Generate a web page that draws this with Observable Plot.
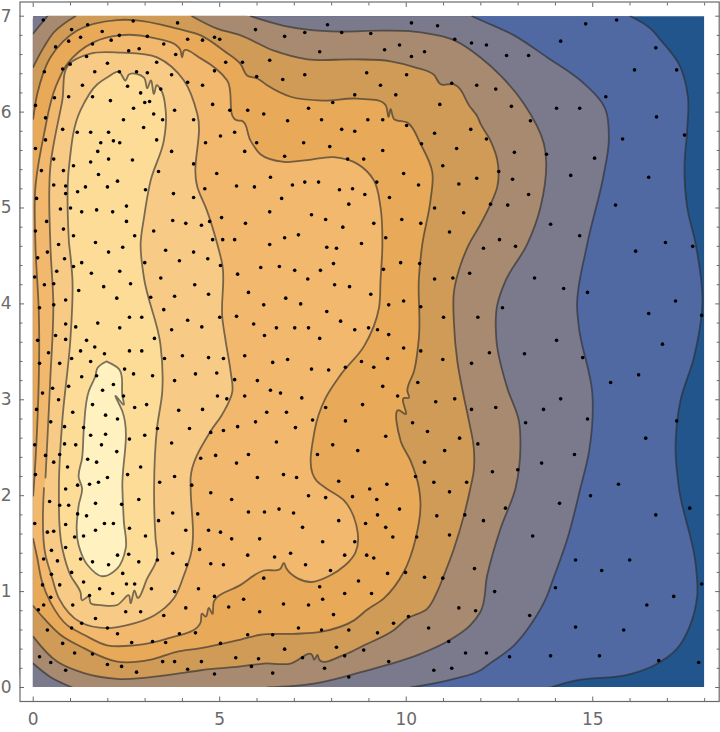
<!DOCTYPE html>
<html>
<head>
<meta charset="utf-8">
<script src="https://cdn.jsdelivr.net/npm/d3@7"></script>
<script src="https://cdn.jsdelivr.net/npm/@observablehq/plot@0.6"></script>
<style>html,body{margin:0;padding:0;background:#fff}svg{display:block}svg text{font-size:17px}</style>
</head>
<body>
<div id="chart"></div>
<script>
const xMajor=[0,5,10,15];
const xMinor=[1,2,3,4,6,7,8,9,11,12,13,14,16,17,18];
const yMajor=[0,1,2,3,4,5,6,7];
const yMinor=[0.2,0.4,0.6,0.8,1.2,1.4,1.6,1.8,2.2,2.4,2.6,2.8,3.2,3.4,3.6,3.8,4.2,4.4,4.6,4.8,5.2,5.4,5.6,5.8,6.2,6.4,6.6,6.8];
const bandColors=["#22558c","#5069a3","#7a7a8c","#a88a70","#cf9b56","#e8a958","#f1b86e","#f7ca86","#fcdc97","#fff2c0"];

const level1=[[16.01,7],[16.55,6.87],[16.82,6.75],[17.31,6.5],[17.55,6.16],[17.53,5.81],[17.46,5.46],[17.53,5.01],[17.76,4.62],[17.94,4.03],[17.71,3.44],[17.35,2.99],[17.22,2.46],[17.31,2.08],[17.76,1.28],[17.8,0.96],[17.58,0.62],[17.27,0.41],[16.64,0.23],[16.01,0.14],[14.5,0.07],[13.85,0]];
const level2=[[11.77,7],[11.99,6.96],[12.89,6.8],[13.78,6.57],[14.67,6.33],[15.34,6.03],[15.43,5.7],[15.3,5.36],[14.85,4.62],[14.58,3.96],[14.63,3.75],[14.99,3.06],[14.9,2.46],[14.67,2.08],[14.32,1.55],[13.91,1.1],[13.78,0.96],[13.38,0.68],[12.89,0.44],[12.17,0.23],[11.99,0.18],[11.28,0.09],[10.12,0]];
const level3Top=[[0,6.82],[0.38,7]];
const level3=[[5.83,7],[6.72,6.9],[7.35,6.86],[8.24,6.84],[9.31,6.85],[10.21,6.84],[11.28,6.75],[11.99,6.57],[12.53,6.38],[13.15,6.09],[13.69,5.67],[13.6,5.01],[13.24,4.62],[12.66,4.24],[12.44,3.99],[12.42,3.61],[12.71,3.12],[13.02,2.78],[13.06,2.5],[12.93,2.08],[12.53,1.66],[12.17,1.17],[11.99,0.79],[11.72,0.65],[11.1,0.48],[10.38,0.35],[8.78,0.16],[7.52,0.04],[6.27,0]];
const level3Bottom=[[1.05,0],[0.46,0.11],[0,0.25]];
const level4Top=[[0,6.47],[0.29,6.68],[0.55,6.83],[1.13,7]];
const level4=[[4.26,7],[4.93,6.87],[5.56,6.8],[6.45,6.64],[7.35,6.55],[8.6,6.55],[9.58,6.53],[10.21,6.47],[10.74,6.39],[10.92,6.29],[11.28,6.29],[11.72,6.05],[11.9,5.96],[11.99,5.88],[12.26,5.7],[12.44,5.5],[12.44,5.22],[12.26,5.04],[11.99,4.83],[11.68,4.62],[11.46,4.41],[11.28,4.13],[11.28,3.79],[11.37,3.4],[11.55,3.02],[11.68,2.78],[11.81,2.5],[11.81,2.26],[11.72,2.08],[11.55,1.8],[11.28,1.45],[11.01,1.17],[10.83,1],[10.56,0.82],[10.03,0.72],[9.67,0.6],[8.87,0.44],[8.33,0.34],[7.67,0.29],[7.62,0.34],[7.53,0.29],[7.48,0.34],[6.9,0.25],[6.18,0.25],[5.56,0.22],[4.49,0.18],[3.59,0.13],[2.25,0.09],[1.36,0.15],[0.64,0.27],[0,0.53]];
const level5=[[0,5.93],[0.11,6.19],[0.46,6.57],[1.18,6.85],[2.25,6.96],[2.7,6.96],[3.86,6.87],[4.49,6.8],[5.11,6.64],[5.56,6.5],[5.74,6.38],[6.01,6.35],[6.27,6.28],[6.9,6.16],[7.79,6.12],[8.69,6.14],[9.45,6.07],[9.53,5.95],[9.58,6.03],[9.67,5.93],[10.03,5.89],[10.38,5.67],[10.7,5.37],[10.65,5.08],[10.43,4.62],[10.34,4.27],[10.34,3.65],[10.21,3.3],[10.03,3.09],[10.07,3.02],[9.94,3.02],[9.98,2.85],[9.82,2.89],[9.85,2.57],[10.12,2.36],[10.34,2.08],[10.38,1.94],[10.25,1.55],[9.94,1.21],[9.4,0.93],[8.95,0.81],[8.6,0.7],[7.7,0.58],[6.99,0.56],[6.09,0.55],[5.56,0.5],[4.49,0.41],[3.82,0.37],[3.15,0.29],[2.25,0.27],[1.36,0.41],[0.73,0.55],[0.29,0.72],[0,0.85]];
const level6=[[0,2],[0.06,2.36],[0.15,3.92],[0.06,4.62],[0.06,5.22],[0.29,5.77],[0.6,6.26],[0.91,6.5],[1.63,6.73],[2.3,6.8],[3.15,6.78],[3.95,6.64],[3.99,6.57],[4.04,6.64],[4.49,6.56],[5.2,6.33],[5.51,5.91],[5.56,5.91],[5.83,5.7],[6.09,5.56],[6.72,5.48],[7.35,5.5],[8.06,5.53],[8.69,5.46],[9.13,5.29],[9.31,5.01],[9.36,4.62],[9.31,4.24],[9.27,3.96],[8.87,3.56],[8.24,3.26],[7.84,3.02],[7.54,2.67],[7.61,2.15],[7.84,2.08],[8.33,1.95],[8.64,1.41],[7.97,1.17],[7.44,1.1],[6.79,1.24],[6.72,1.3],[6.63,1.24],[6.18,1.22],[5.56,1.07],[4.84,0.89],[4.8,0.77],[4.71,0.83],[4.62,0.74],[4.53,0.77],[4.49,0.68],[3.59,0.51],[2.7,0.44],[1.98,0.44],[1.36,0.55],[0.91,0.65],[0.46,0.89],[0.24,1.1],[0.11,1.35],[0,1.55]];
const level7=[[0.33,2.19],[0.46,3.23],[0.54,3.99],[0.46,4.62],[0.46,5.43],[0.78,6.12],[0.96,6.5],[1.54,6.61],[2.34,6.62],[3.32,6.57],[4.04,6.33],[4.4,5.98],[4.4,5.22],[4.66,4.97],[4.93,4.63],[5.07,4.41],[5.07,3.85],[5.16,3.61],[5.29,3.3],[5.34,3.09],[5.07,2.85],[4.75,2.67],[4.22,2.19],[4.22,2.08],[4.22,1.38],[4.04,1.17],[3.77,0.93],[3.24,0.75],[2.52,0.65],[1.98,0.62],[1.27,0.68],[0.69,0.93],[0.51,1.14],[0.33,1.38],[0.29,2.08]];
const level8=[[0.96,4.63],[0.96,5.43],[1.27,6.02],[1.72,6.29],[1.98,6.36],[2.3,6.42],[2.48,6.33],[2.56,6.39],[2.97,6.36],[3.06,6.25],[3.15,6.33],[3.24,6.19],[3.32,6.28],[3.41,6.24],[3.55,6.02],[3.5,5.7],[3.15,5.29],[2.97,4.9],[2.88,4.63],[2.97,4.27],[3.41,3.58],[3.46,3.09],[3.32,2.71],[3.24,2.08],[3.28,1.55],[3.32,1.35],[3.06,1.14],[2.79,0.94],[2.72,1.01],[2.61,0.88],[2.57,0.96],[2.25,0.86],[1.81,0.86],[1.54,0.88],[1.49,0.95],[1.31,0.91],[1.27,0.99],[1,1.17],[0.78,1.45],[0.69,2.08],[0.78,2.78],[1,3.65],[1.05,4.27],[0.96,4.63]];
const level9=[[1.96,3.4],[1.72,3.33],[1.67,3.25],[1.49,3.09],[1.36,2.71],[1.31,2.39],[1.22,2.19],[1.31,2.08],[1.22,1.9],[1.22,1.48],[1.45,1.28],[1.85,1.16],[2.25,1.24],[2.48,1.45],[2.43,1.73],[2.39,2.08],[2.39,2.88],[2.21,3.04],[2.43,2.95],[2.39,3.04],[2.3,3.32],[1.96,3.4]];

const dotsUpper=[[.27,6.96],[1.03,6.86],[1.46,6.91],[1.85,6.84],[2.68,6.95],[3.87,6.93],[.6,6.68],[.95,6.74],[1.27,6.78],[2.09,6.75],[2.31,6.8],[3.06,6.79],[4.14,6.76],[4.54,6.75],[4.86,6.78],[5,6.76],[1.59,6.71],[3.5,6.71],[2.56,6.64],[2.84,6.66],[3.82,6.6],[1.43,6.58],[5.16,6.52],[3.31,6.52],[1.99,6.51],[.99,6.5],[.79,6.45],[.3,6.42],[1.65,6.42],[2.31,6.42],[2.77,6.42],[3.06,6.41],[3.71,6.39],[4.86,6.43],[4.14,6.31],[1.32,6.28],[2.53,6.27],[4.54,6.28],[3.42,6.24],[2.88,6.2],[.57,6.15],[.95,6.16],[1.59,6.16],[2.07,6.12],[2.99,6.1],[3.12,6.11],[.06,6.07],[4.81,6.08],[2.69,6.04],[3.79,6.02],[5.27,6.02],[3.23,5.98],[.33,5.94],[2.42,5.92],[3.47,5.92],[4.3,5.92],[.79,5.82],[2.96,5.84],[1.18,5.79],[1.54,5.79],[2.02,5.79],[5.4,5.79],[5.02,5.75],[.33,5.71],[3.31,5.71],[2.15,5.7],[2.32,5.68],[1.81,5.68],[4.62,5.68],[.06,5.62],[1.73,5.59],[3.71,5.59],[.55,5.51],[2.02,5.51],[2.66,5.5],[1.54,5.48],[4.3,5.46],[1.08,5.44],[.22,5.39],[.81,5.39],[3.36,5.38],[4.92,5.36],[1.75,5.35],[2.26,5.28],[.55,5.24],[.87,5.23],[1.4,5.22],[1.99,5.22],[5.45,5.23],[4.6,5.2],[3.01,5.19],[1.19,5.17],[.87,5.15],[3.76,5.15],[4.3,5.11],[.09,5.1],[2.5,5.02],[.73,4.99],[1,5],[1.7,4.98],[1.3,4.96],[2.13,4.96],[5.05,4.9],[.36,4.86],[2.5,4.86],[3.74,4.87],[4.09,4.84],[4.73,4.86],[4.51,4.82],[.81,4.78],[.06,4.76],[3.23,4.76],[1.08,4.71],[2.72,4.71],[4.81,4.67],[5.08,4.67],[5.4,4.67],[1.67,4.64],[.68,4.62],
[5.96,6.86],[7.89,6.91],[10.14,6.93],[10.84,6.9],[6.74,6.79],[7.28,6.83],[8.27,6.83],[9.05,6.82],[11.3,6.76],[11.75,6.72],[9.82,6.7],[9.42,6.65],[7.68,6.63],[10.49,6.63],[10.14,6.58],[5.61,6.52],[6.34,6.54],[8.94,6.41],[7.28,6.39],[10.01,6.39],[5.99,6.37],[6.69,6.34],[9.31,6.28],[11.22,6.3],[11.89,6.28],[8.62,6.18],[9.72,6.18],[8.03,6.1],[10.9,6.08],[7.38,6.04],[5.75,6.02],[6.18,5.98],[6.82,5.91],[7.73,5.92],[8.97,5.92],[9.37,5.92],[10.01,5.86],[8.27,5.82],[8.62,5.8],[10.76,5.78],[11.73,5.82],[5.99,5.68],[7.25,5.68],[10.41,5.67],[7.95,5.64],[5.67,5.59],[9.37,5.6],[11.35,5.62],[6.74,5.54],[8.43,5.51],[8.86,5.51],[10.98,5.44],[9.93,5.36],[6.36,5.32],[11.89,5.31],[5.93,5.22],[6.95,5.24],[7.28,5.27],[7.65,5.27],[9.21,5.27],[10.33,5.24],[11.41,5.25],[8.21,5.19],[8.56,5.2],[8.89,5.14],[6.66,5.1],[9.55,5.11],[8.46,5.04],[10.76,5],[6.34,4.96],[7.46,4.93],[11.54,4.95],[7.84,4.88],[9.88,4.88],[5.69,4.84],[9.13,4.84],[10.39,4.84],[8.3,4.8],[11.16,4.75],[6.74,4.69],[7.11,4.72],[9.45,4.69],[6.34,4.62],[8.8,4.63],
[14.81,6.92],[15.64,6.96],[14.14,6.74],[16.69,6.67],[12.15,6.7],[12.69,6.59],[13.28,6.59],[16.12,6.44],[17.25,6.44],[12.4,6.24],[15.35,6.16],[12.82,6.06],[14.03,6.04],[14.65,6.04],[16.71,5.95],[13.33,5.91],[12.15,5.72],[15.8,5.72],[17.46,5.76],[12.9,5.58],[13.76,5.56],[15.05,5.52],[12.48,5.38],[12.85,5.3],[14.41,5.34],[16.5,5.32],[13.28,5.14],[12.26,5.04],[12.72,5.03],[15.61,5.03],[13.87,4.83],[14.65,4.71],[12.5,4.67],[16.95,4.64]];
const dotsMiddle=[[2.02,4.54],[2.4,4.59],[.38,4.54],[.12,4.48],[.84,4.47],[1.3,4.43],[1.08,4.39],[2.99,4.43],[3.55,4.56],[4.3,4.54],[3.92,4.45],[4.68,4.47],[5.02,4.4],[.63,4.34],[1.56,4.32],[2.32,4.34],[.04,4.28],[3.42,4.27],[5.48,4.31],[.3,4.2],[.55,4.21],[1.89,4.18],[2.61,4.21],[4.33,4.2],[1.22,4.14],[2.24,4.06],[3.15,4.07],[3.79,4.08],[4.7,4.1],[.87,4.04],[.55,3.99],[.17,3.96],[3.5,3.94],[2.58,3.86],[2.91,3.86],[5,3.86],[5.45,3.87],[4.14,3.83],[.87,3.79],[1.14,3.76],[1.73,3.8],[2.32,3.75],[3.71,3.73],[4.52,3.76],[.6,3.67],[3.25,3.64],[.12,3.62],[.87,3.63],[1.43,3.62],[1.65,3.55],[1.27,3.51],[2.58,3.51],[2.91,3.51],[1.91,3.48],[.41,3.49],[4,3.46],[4.7,3.44],[5.1,3.43],[1.03,3.43],[3.52,3.43],[1.54,3.4],[.17,3.38],[.71,3.38],[2.45,3.32],[2.69,3.27],[4.35,3.27],[4.92,3.28],[1.3,3.24],[1.7,3.25],[3.2,3.25],[3.79,3.2],[5.4,3.21],[.95,3.14],[2.15,3.16],[.52,3.12],[1.86,3.1],[.25,3.07],[2.42,3.04],[4.94,3.04],[5.19,3.01],[.68,3],[1.59,2.95],[2.72,2.92],[3.04,2.95],[.09,2.9],[3.9,2.89],[4.54,2.9],[1.06,2.87],[1.94,2.84],[2.26,2.8],[.47,2.77],[.84,2.72],[1.35,2.71],[3.33,2.7],[4.19,2.7],[5.48,2.72],[5.1,2.68],[4.76,2.66],[1.54,2.63],[1.94,2.64],[2.58,2.59],[2.99,2.63],[.04,2.53],[.84,2.54],[1.14,2.53],[1.83,2.53],[3.71,2.55],[2.24,2.46],[.33,2.42],[.71,2.43],[4.49,2.39],[4.89,2.42],[1.46,2.38],[.55,2.35],[1.7,2.35],[2.88,2.3],[.92,2.3],[5.45,2.34],[.06,2.22],[2.53,2.22],[1.99,2.19],[3.79,2.2],[3.39,2.14],[1.75,2.14],[1.51,2.12],[1.19,2.11],[4.25,2.11],
[7.87,4.59],[8.13,4.58],[6.1,4.38],[6.6,4.39],[7.01,4.35],[7.7,4.35],[8.05,4.42],[7.36,4.26],[9.39,4.36],[9.85,4.43],[10.36,4.42],[10.76,4.26],[11.25,4.27],[11.7,4.32],[8.08,4.2],[8.48,4.18],[5.77,4.12],[6.77,4.06],[9.05,4.1],[6.18,3.99],[7.17,4],[9.53,3.99],[9.93,4.03],[10.39,3.97],[7.87,3.92],[11,3.86],[11.92,3.86],[8.24,3.82],[5.91,3.79],[6.52,3.75],[7.01,3.75],[7.38,3.75],[8.62,3.73],[8.99,3.75],[9.23,3.73],[6.2,3.67],[9.53,3.68],[7.68,3.64],[9.93,3.54],[10.39,3.51],[5.67,3.46],[6.42,3.39],[6.82,3.42],[8.8,3.4],[9.5,3.43],[10.98,3.42],[11.75,3.38],[7.46,3.32],[7.92,3.31],[8.37,3.34],[9.13,3.34],[6.01,3.2],[10.31,3.18],[9.37,3.14],[6.36,3.1],[6.63,3.07],[5.67,3.04],[7.2,3.02],[9.77,3.04],[10.79,2.98],[11.3,3.01],[7.84,2.92],[8.83,2.95],[11.75,2.9],[6.26,2.87],[6.79,2.87],[5.96,2.77],[7.49,2.79],[8.37,2.78],[10.17,2.76],[7.03,2.71],[10.57,2.67],[9.45,2.62],[11.43,2.6],[6.52,2.56],[8.03,2.53],[8.7,2.47],[11.03,2.47],[11.92,2.54],[5.77,2.43],[7.62,2.43],[10.49,2.35],[6.01,2.19],[6.71,2.22],[7.06,2.19],[10.25,2.2],[8.19,2.15],[10.74,2.14],[11.62,2.14],[9.48,2.12],
[12.07,4.58],[12.93,4.6],[16.15,4.55],[17.68,4.6],[13.44,4.27],[14.22,4.16],[14.86,4.12],[17.22,4.03],[12.58,3.96],[16.5,3.9],[17.92,3.88],[14.03,3.62],[16.87,3.58],[12.23,3.49],[13.17,3.48],[14.73,3.44],[16.23,3.26],[15.48,3.18],[14.14,3.01],[12.4,2.92],[13.68,2.9],[13.2,2.76],[14.86,2.8],[17.25,2.78],[16.42,2.6],[14.51,2.43],[13.63,2.34],[12.31,2.25],[12.99,2.27],[15.69,2.12]];
const dotsLower=[[.87,2.07],[.44,1.94],[.71,1.9],[.95,1.9],[1.67,1.92],[2.37,1.91],[2.83,1.96],[4.76,2.03],[5.32,1.96],[1.19,1.81],[1.43,1.79],[.04,1.71],[.87,1.7],[1.91,1.71],[2.15,1.71],[3.74,1.82],[4.41,1.81],[3.36,1.74],[.38,1.62],[.55,1.63],[1.67,1.64],[2.58,1.66],[4.09,1.64],[4.7,1.64],[5.02,1.62],[1.11,1.57],[1.35,1.58],[3.01,1.58],[5.32,1.55],[.87,1.46],[.49,1.43],[4.46,1.44],[2.26,1.38],[2.56,1.39],[3.74,1.4],[.28,1.34],[1.27,1.34],[.65,1.32],[1.59,1.31],[2.83,1.31],[3.33,1.33],[2.02,1.28],[4.76,1.29],[4.11,1.28],[5.1,1.28],[1.03,1.2],[.49,1.18],[2.4,1.19],[1.35,1.1],[2.5,1.08],[2.72,1.08],[.25,1.07],[.71,1.07],[1.78,1.03],[3.17,1.03],[3.79,1],[4.43,1.03],[2.13,.98],[1.51,.96],[.47,.94],[4.86,.95],[1.06,.86],[.28,.86],[4.09,.83],[5.24,.84],[.14,.81],[2.48,.79],[2.88,.79],[3.5,.75],[1.67,.72],[1.3,.67],[.38,.6],[1.03,.62],[1.99,.62],[2.26,.56],[3.92,.56],[4.35,.57],[.79,.46],[2.64,.47],[3.2,.48],[3.55,.47],[5.02,.46],[1.11,.36],[1.59,.35],[.17,.32],[.47,.26],[1.99,.24],[3.47,.27],[3.79,.27],[4.51,.27],[5.43,.31],[2.37,.22],[.87,.18],[4.14,.19],[2.77,.16],[4.86,.14],
[7.38,2],[7.84,1.98],[8.56,1.99],[9.02,2.07],[9.21,1.96],[11.16,2.04],[5.77,1.83],[6.2,1.83],[6.59,1.86],[6.98,1.82],[8.19,1.74],[9.82,1.86],[9.23,1.8],[11.57,1.8],[10.82,1.79],[8.91,1.71],[7.22,1.67],[9.45,1.67],[6.07,1.55],[7.76,1.52],[8.62,1.52],[9.64,1.57],[10.28,1.57],[11.16,1.59],[5.75,1.38],[6.47,1.36],[6.9,1.4],[8.35,1.38],[8.94,1.38],[9.13,1.35],[7.3,1.28],[11.83,1.24],[7.97,1.22],[9.5,1.19],[9.98,1.2],[6.18,1.14],[10.49,1.15],[10.98,1.14],[8.72,1.11],[7.68,1.05],[8.35,.98],[9.07,.98],[5.64,.92],[7.76,.92],[6.71,.87],[7.38,.86],[11.41,.83],[6.07,.79],[11.86,.8],[8.05,.76],[10.06,.74],[9.66,.67],[7.11,.62],[10.6,.62],[7.73,.6],[8.46,.6],[5.75,.55],[6.42,.55],[9.23,.57],[11.14,.48],[6.74,.4],[8.13,.42],[8.86,.39],[11.59,.36],[7.22,.31],[8.35,.33],[6.04,.3],[9.53,.27],[5.85,.22],[7.81,.2],[10.74,.18],[11.22,.2],[6.42,.15],[8.46,.11],
[14.94,2],[14.11,1.92],[17.6,1.87],[12.66,1.87],[16.69,1.8],[12.07,1.74],[13.39,1.58],[14.54,1.33],[15.99,1.33],[15.24,1.22],[17.92,1.08],[14,1.04],[12.37,1],[17.17,.95],[16.45,.86],[13.31,.75],[14.54,.63],[15.83,.6],[12.15,.36],[12.77,.32],[13.87,.33],[15.18,.33],[16.77,.28],[17.84,.26]];

const xDomain=[-0.354,18.39], yDomain=[-0.146,7.148];
const xMax=18, yMax=7;
const cornersLeft=[[0,0],[0,yMax]];
const regions=[
  [[0,0],[xMax,0],[xMax,yMax],[0,yMax]],
  [...level1,...cornersLeft],
  [...level2,...cornersLeft],
  [...level3Top,...level3,...level3Bottom],
  [...level4Top,...level4],
  level5,level6,level7,level8,level9
];
const strokes=[level1,level2,level3Top,level3,level3Bottom,level4Top,level4,level5,level6,level7,level8,level9];
const strokeRows=strokes.flatMap((s,i)=>s.map(p=>({x:p[0],y:p[1],z:i})));
const curve=d3.curveCatmullRom.alpha(1);
const axisStyle={stroke:"#6a6a6a",fill:"#6a6a6a",strokeWidth:1,strokeOpacity:1};
const noText=()=>"";

const marks=[
  ...regions.map((r,i)=>Plot.line(r,{x:d=>d[0],y:d=>d[1],fill:bandColors[i],stroke:"none",curve:i?curve:"linear",clip:"frame"})),
  Plot.line(strokeRows,{x:"x",y:"y",z:"z",stroke:"#2a2a2a",strokeOpacity:0.62,strokeWidth:1.8,curve,clip:"frame"}),
  Plot.rect([0],{x1:xDomain[0],x2:0,y1:yDomain[0],y2:yDomain[1],fill:"white"}),
  Plot.rect([0],{x1:xMax,x2:xDomain[1],y1:yDomain[0],y2:yDomain[1],fill:"white"}),
  Plot.rect([0],{x1:xDomain[0],x2:xDomain[1],y1:yDomain[0],y2:0,fill:"white"}),
  Plot.rect([0],{x1:xDomain[0],x2:xDomain[1],y1:yMax,y2:yDomain[1],fill:"white"}),
  Plot.dot([...dotsUpper,...dotsMiddle,...dotsLower],{x:d=>d[0],y:d=>d[1],r:1.8,fill:"black",stroke:"none"}),
  Plot.axisX({anchor:"bottom",ticks:xMajor,tickSize:-4.5,tickPadding:15.5,label:null,...axisStyle}),
  Plot.axisX({anchor:"bottom",ticks:xMinor,tickSize:-3,tickFormat:noText,label:null,...axisStyle}),
  Plot.axisX({anchor:"top",ticks:xMajor,tickSize:-4.5,tickFormat:noText,label:null,...axisStyle}),
  Plot.axisX({anchor:"top",ticks:xMinor,tickSize:-3,tickFormat:noText,label:null,...axisStyle}),
  Plot.axisY({anchor:"left",ticks:yMajor,tickSize:-4.5,tickPadding:13,label:null,...axisStyle}),
  Plot.axisY({anchor:"left",ticks:yMinor,tickSize:-3,tickFormat:noText,label:null,...axisStyle}),
  Plot.axisY({anchor:"right",ticks:yMajor,tickSize:-4.5,tickFormat:noText,label:null,...axisStyle}),
  Plot.axisY({anchor:"right",ticks:yMinor,tickSize:-3,tickFormat:noText,label:null,...axisStyle}),
  Plot.frame({stroke:"#6a6a6a",strokeWidth:1.2})
];

const chart=Plot.plot({
  width:720,height:732,
  marginLeft:19.5,marginRight:1.3,marginTop:1.5,marginBottom:31,
  x:{domain:xDomain},y:{domain:yDomain},
  style:{background:"white",fontFamily:"DejaVu Sans"},
  marks
});
document.getElementById("chart").append(chart);
</script>
</body>
</html>
